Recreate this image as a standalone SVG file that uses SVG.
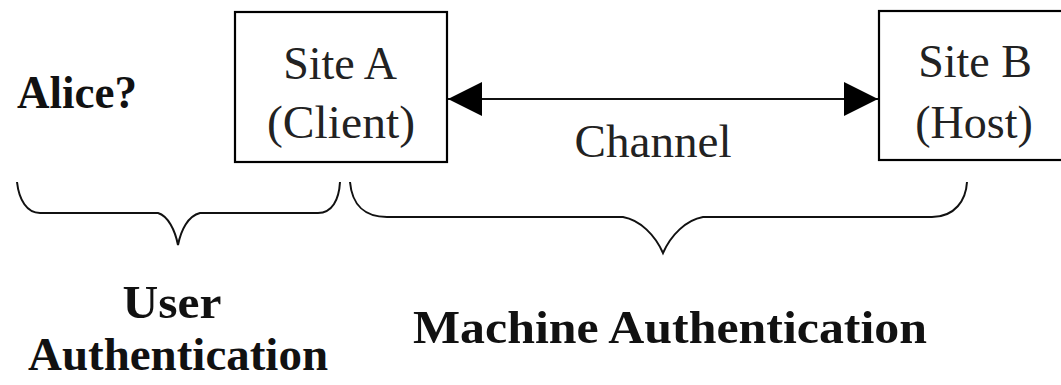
<svg xmlns="http://www.w3.org/2000/svg" width="1061" height="385" viewBox="0 0 1061 385">
<style>
.box{fill:#fff;stroke:#000;stroke-width:2.2}
.t{font-family:"Liberation Serif","Times New Roman",serif;font-size:46px;fill:#222}
.b{font-family:"Liberation Serif","Times New Roman",serif;font-size:47px;font-weight:bold;fill:#111}
.brace{fill:none;stroke:#111;stroke-width:2}
.conn{stroke:#111;stroke-width:2.2}
</style>
<defs>
<marker id="ah" viewBox="0 0 10 10" refX="10" refY="5" markerWidth="34" markerHeight="36" markerUnits="userSpaceOnUse" orient="auto-start-reverse">
<path d="M0,0 L10,5 L0,10 Z" fill="#000"/>
</marker>
</defs>
<g id="alice"><text class="b" x="17" y="108" textLength="120" lengthAdjust="spacingAndGlyphs">Alice?</text></g>
<g id="siteA">
<rect class="box" x="235" y="12" width="212" height="150"/>
<text class="t" x="340" y="79" text-anchor="middle">Site A</text>
<text class="t" x="341" y="138" text-anchor="middle" textLength="148" lengthAdjust="spacingAndGlyphs">(Client)</text>
</g>
<g id="siteB">
<rect class="box" x="879" y="11" width="190" height="149"/>
<text class="t" x="975" y="77" text-anchor="middle">Site B</text>
<text class="t" x="974" y="138" text-anchor="middle">(Host)</text>
</g>
<g id="connectors">
<line class="conn" x1="448" y1="99" x2="878" y2="99" marker-start="url(#ah)" marker-end="url(#ah)"/>
<text class="t" x="653" y="157" text-anchor="middle" textLength="157" lengthAdjust="spacingAndGlyphs">Channel</text>
</g>
<g id="userBrace">
<path class="brace" d="M17,182 C19,200 27,213 40,213 L158,213 C168,216 175,230 178,245 C181,230 188,216 200,213 L318,213 C332,213 339,200 340,182"/>
<text class="b" x="172" y="318" text-anchor="middle" textLength="99" lengthAdjust="spacingAndGlyphs">User</text>
<text class="b" x="178" y="370" text-anchor="middle" textLength="300" lengthAdjust="spacingAndGlyphs">Authentication</text>
</g>
<g id="machineBrace">
<path class="brace" d="M350,182 C352,205 365,217 387,217 L623,217 C640,220 655,235 663,253 C671,235 686,220 703,217 L932,217 C955,217 966,200 967,182"/>
<text class="b" x="670" y="343" text-anchor="middle" textLength="514" lengthAdjust="spacingAndGlyphs">Machine Authentication</text>
</g>
</svg>
